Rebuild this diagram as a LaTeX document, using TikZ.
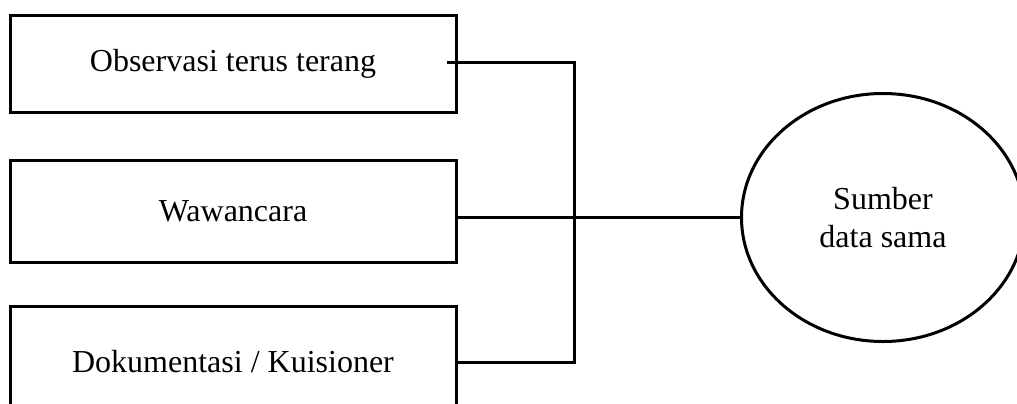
\documentclass[tikz,border=0pt]{standalone}
\usepackage{fontspec}
\setmainfont{Liberation Serif}
\usetikzlibrary{shapes.geometric}
\begin{document}
\begin{tikzpicture}[x=0.5pt,y=-0.5pt,
  every node/.style={font=\fontsize{16}{19}\selectfont},
  method/.style={draw,line width=1.5pt,rectangle,inner sep=0pt,
    minimum width=223pt,minimum height=48.5pt,align=center},
  source/.style={draw,line width=1.5pt,ellipse,inner sep=0pt,
    minimum width=141.5pt,minimum height=124pt,align=center},
  link/.style={line width=1.5pt}]
  \useasboundingbox (0,0) rectangle (1017,403);
  \clip (0,0) rectangle (1017,403);

  % data collection methods
  \node[method] (b1) at (233,63.5) {Observasi terus terang};
  \node[method,minimum height=51pt] (b2) at (233,211) {Wawancara};
  \node[method,minimum height=56pt] (b3) at (233,362) {Dokumentasi / Kuisioner};

  % data source
  \node[source] (c) at (883,217.5) {Sumber\\data sama};

  % connectors
  \coordinate (t1) at (447,62);
  \coordinate (j) at (574,62);
  \draw[link] (t1) -- (j) |- (b3.east);
  \draw[link] (b2.east |- c.west) -- (c.west);
\end{tikzpicture}
\end{document}
